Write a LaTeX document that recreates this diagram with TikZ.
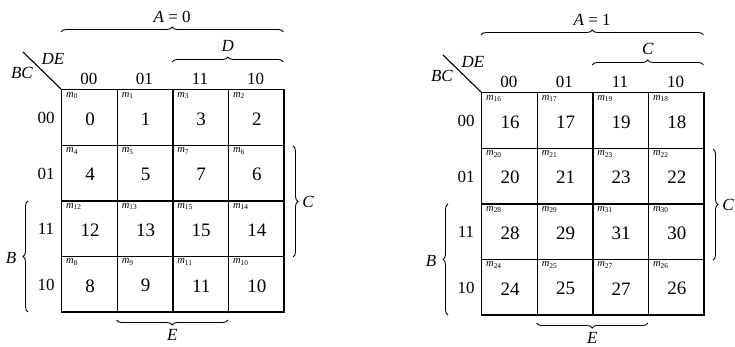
\documentclass[tikz,border=0pt]{standalone}
\usepackage{fontspec}
\setmainfont{Liberation Serif}
\usetikzlibrary{decorations.pathreplacing,calc}
\begin{document}
\begin{tikzpicture}[x=1pt,y=-1pt,
  cellbox/.style={draw, line width=1.4pt, minimum width=55.6pt, minimum height=55.6pt, inner sep=0pt, anchor=north west},
  num/.style={font=\fontsize{19}{22}\selectfont, inner sep=0pt},
  mlab/.style={font=\fontsize{10.5}{12}\selectfont, anchor=north west, inner sep=0pt},
  lab/.style={font=\fontsize{17}{20}\selectfont, inner sep=0pt},
  brc/.style={decorate, decoration={brace, amplitude=5pt}, line width=0.9pt}]
\useasboundingbox (0,0) rectangle (735,347);
\foreach \A/\ox/\oy/\tl in {0/61/89/D, 1/481/92/C}{
\begin{scope}[shift={(\ox,\oy)}]
  \foreach \r/\rv/\rl in {0/0/00,1/1/01,2/3/11,3/2/10}{
    \foreach \c/\cv/\cl in {0/0/00,1/1/01,2/3/11,3/2/10}{
      \pgfmathtruncatemacro{\m}{16*\A+4*\rv+\cv}
      \node[cellbox] (c\A\r\c) at (55.6*\c, 55.6*\r) {};
      \node[mlab] (ml\A\r\c) at (55.6*\c+5, 55.6*\r+3) {\textit{m}\textsubscript{\m}};
      \node[num] (n\A\r\c) at (55.6*\c+29, 55.6*\r+30) {\m};
    }
    \node[lab] (rl\A\r) at (-15, 55.6*\r+29) {\rl};
  }
  \foreach \c/\cl in {0/00,1/01,2/11,3/10}{
    \node[lab] (cl\A\c) at (55.6*\c+27.8, -10) {\cl};
  }
  \coordinate (dg\A) at (-38,-37);
  \draw[line width=1.1pt] (dg\A) -- (c\A00.north west);
  \node[lab] (de\A) at (-8,-30) {\textit{DE}};
  \node[lab] (bc\A) at (-39,-16) {\textit{BC}};
  % A brace
  \coordinate (a1\A) at (0,-57); \coordinate (a2\A) at (222.4,-57);
  \draw[brc] (a1\A) -- (a2\A);
  \node[lab] (al\A) at (111.2,-72) {\textit{A} = \A};
  % top variable brace
  \coordinate (d1\A) at (111.2,-27); \coordinate (d2\A) at (222.4,-27);
  \draw[brc] (d1\A) -- (d2\A);
  \node[lab] (dl\A) at (166.8,-43) {\textit{\tl}};
  % C brace (right)
  \coordinate (c1\A) at (232,57); \coordinate (c2\A) at (232,168);
  \draw[brc] (c1\A) -- (c2\A);
  \node[lab] (clb\A) at (247,113) {\textit{C}};
  % B brace (left)
  \coordinate (b1\A) at (-33,223); \coordinate (b2\A) at (-33,112);
  \draw[brc] (b1\A) -- (b2\A);
  \node[lab] (bl\A) at (-50,169) {\textit{B}};
  % E brace (bottom)
  \coordinate (e1\A) at (166.8,231); \coordinate (e2\A) at (55.6,231);
  \draw[brc] (e1\A) -- (e2\A);
  \node[lab] (el\A) at (111.2,246) {\textit{E}};
\end{scope}
}
\end{tikzpicture}
\end{document}
